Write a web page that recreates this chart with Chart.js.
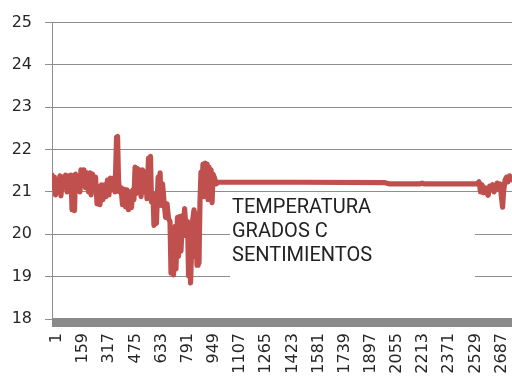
<!DOCTYPE html>
<html>
<head>
<meta charset="utf-8">
<script src="https://cdn.jsdelivr.net/npm/chart.js@4/dist/chart.umd.min.js"></script>
<style>
  html, body { margin: 0; padding: 0; background: #ffffff; overflow: hidden; }
  #wrap { width: 512px; height: 381px; position: relative; }
</style>
</head>
<body>
<div id="wrap"><canvas id="c" width="512" height="381"></canvas></div>
<script>
// Sample number of each reading
const sampleIndex = [
  1, 10, 16, 22, 31, 40, 49, 55, 64, 73, 83, 92, 101, 110, 116, 122, 131, 137, 143, 152,
  161, 170, 176, 185, 194, 203, 212, 222, 231, 237, 246, 255, 264, 273, 282, 291, 300, 309, 318, 327,
  336, 345, 354, 364, 373, 382, 391, 397, 403, 409, 418, 427, 436, 445, 454, 463, 472, 481, 490, 496,
  503, 509, 515, 521, 530, 539, 548, 557, 566, 575, 584, 590, 596, 602, 611, 617, 626, 632, 642, 648,
  654, 660, 669, 678, 687, 696, 705, 714, 720, 729, 735, 744, 750, 759, 765, 771, 780, 790, 796, 802,
  811, 820, 826, 832, 838, 844, 850, 859, 865, 871, 877, 883, 889, 895, 901, 907, 913, 919, 926, 932,
  938, 944, 950, 956, 962, 968, 974, 983, 992, 1004, 1500, 2013, 2043, 2225, 2237, 2249, 2569, 2581, 2590, 2599,
  2608, 2617, 2627, 2636, 2645, 2654, 2663, 2672, 2681, 2690, 2699, 2708, 2717, 2723, 2729, 2738, 2747, 2756, 2765, 2775,
  2784
];

// Temperature in degrees C for each sample
const temperature = [
  21.40, 21.10, 21.35, 20.93, 21.28, 21.00, 21.38, 20.91, 21.35, 21.10, 21.40, 21.00, 21.38, 21.12, 21.40, 20.58, 21.28, 20.56, 21.42, 21.05,
  21.38, 21.00, 21.52, 21.24, 21.52, 21.10, 21.45, 21.00, 21.45, 20.93, 21.42, 21.05, 21.35, 20.72, 21.12, 20.70, 21.17, 20.82, 21.17, 20.89,
  21.28, 20.93, 21.33, 21.05, 21.33, 21.00, 22.29, 22.31, 21.28, 21.00, 21.10, 20.70, 21.07, 20.65, 21.05, 20.58, 21.00, 20.63, 21.05, 20.82,
  21.59, 20.96, 21.56, 21.05, 21.52, 20.89, 21.52, 21.00, 21.47, 20.84, 21.80, 21.00, 21.84, 20.77, 20.96, 20.21, 20.86, 20.26, 21.35, 20.77,
  21.45, 20.68, 21.19, 20.77, 20.40, 20.72, 20.37, 20.30, 19.09, 19.95, 19.04, 20.19, 19.18, 20.40, 19.48, 20.42, 19.60, 20.44, 19.97, 20.61,
  20.11, 20.30, 19.02, 19.95, 18.85, 19.60, 20.30, 20.58, 19.48, 20.49, 19.27, 19.83, 19.32, 20.77, 21.47, 21.00, 21.66, 20.89, 21.68, 21.05,
  21.66, 20.82, 21.59, 21.00, 21.52, 20.75, 21.42, 21.33, 21.19, 21.23, 21.23, 21.22, 21.19, 21.19, 21.21, 21.19, 21.19, 21.24, 21.00, 21.17,
  20.98, 21.10, 20.98, 20.92, 21.14, 21.05, 21.17, 21.00, 21.10, 21.21, 21.07, 21.19, 20.86, 20.64, 21.00, 21.28, 21.35, 21.24, 21.38, 21.33,
  21.28
];

// Category labels shown along the bottom axis
const xTickLabels = [1, 159, 317, 475, 633, 791, 949, 1107, 1265, 1423, 1581, 1739, 1897, 2055, 2213, 2371, 2529, 2687];

const seriesName = ['TEMPERATURA', 'GRADOS C', 'SENTIMIENTOS'];

const points = sampleIndex.map((x, i) => ({ x: x, y: temperature[i] }));

const axisFont = { family: '"DejaVu Sans", sans-serif', size: 16 };
const gridGray = '#8e8e8e';

// White legend panel with the series name, placed inside the plot
const legendPanel = {
  id: 'legendPanel',
  beforeDatasetsDraw(chart) {
    const ctx = chart.ctx;
    ctx.save();
    ctx.fillStyle = '#ffffff';
    ctx.fillRect(230, 193, 245, 92);
    ctx.restore();
  },
  afterDatasetsDraw(chart) {
    const ctx = chart.ctx;
    ctx.save();
    ctx.fillStyle = '#222222';
    ctx.font = '20px Roboto, "Liberation Sans", sans-serif';
    ctx.textAlign = 'left';
    ctx.textBaseline = 'alphabetic';
    seriesName.forEach((t, k) => ctx.fillText(t, 232, 212.5 + k * 24));
    ctx.restore();
  }
};

// Dense category tick marks rendered as a solid band under the plot
const tickBand = {
  id: 'tickBand',
  afterDraw(chart) {
    const a = chart.chartArea;
    const ctx = chart.ctx;
    ctx.save();
    ctx.fillStyle = '#8a8a8a';
    ctx.fillRect(a.left, a.bottom - 1, a.right - a.left, 9);
    ctx.restore();
  }
};

new Chart(document.getElementById('c'), {
  type: 'line',
  data: {
    datasets: [{
      label: seriesName.join(' '),
      data: points,
      borderColor: '#c0504d',
      backgroundColor: '#c0504d',
      borderWidth: 5.2,
      pointRadius: 0,
      tension: 0,
      borderJoinStyle: 'round',
      borderCapStyle: 'round'
    }]
  },
  options: {
    responsive: false,
    animation: false,
    devicePixelRatio: 1,
    layout: { padding: { top: 19, right: 0, bottom: 0, left: 0 } },
    plugins: {
      legend: { display: false },
      tooltip: { enabled: false }
    },
    scales: {
      x: {
        type: 'linear',
        min: 1,
        max: 2780,
        grid: { display: false, drawTicks: false },
        border: { display: false },
        afterBuildTicks(scale) {
          scale.ticks = xTickLabels.map(v => ({ value: v }));
        },
        afterFit(scale) {
          scale.height = 62;
          scale.paddingLeft = 0;
          scale.paddingRight = 0;
        },
        ticks: {
          autoSkip: false,
          minRotation: 90,
          maxRotation: 90,
          padding: 14,
          labelOffset: 5,
          color: '#262626',
          font: axisFont,
          callback: v => String(v)
        }
      },
      y: {
        min: 18,
        max: 25,
        afterFit(scale) {
          scale.width = 52;
        },
        grid: { color: gridGray, lineWidth: 1, tickLength: 7, drawTicks: true },
        border: { color: gridGray, width: 1 },
        ticks: {
          stepSize: 1,
          padding: 13,
          color: '#262626',
          font: axisFont
        }
      }
    }
  },
  plugins: [legendPanel, tickBand]
});
</script>
</body>
</html>
